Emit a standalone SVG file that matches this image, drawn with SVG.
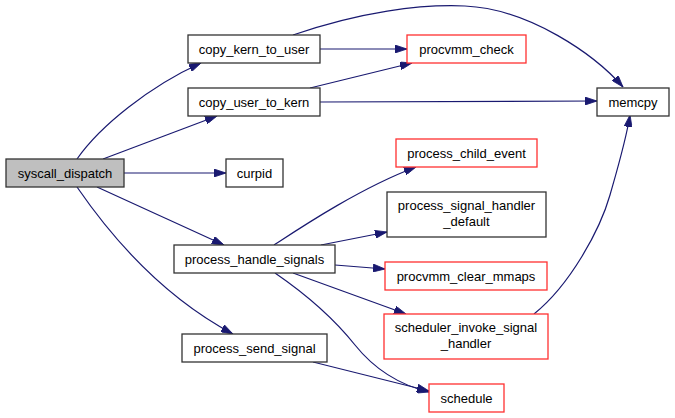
<svg xmlns="http://www.w3.org/2000/svg" width="675" height="418" viewBox="0 0 675 418">
<defs>
<style>
.n rect{fill:#fff;stroke:#333;stroke-width:1.3}
.n.red rect{stroke:#ff3030}
.n.root rect{fill:#bfbfbf}
.n text{font-family:"Liberation Sans",Arial,sans-serif;font-size:13px;text-anchor:middle;fill:#000}
.e path{fill:none;stroke:#191970;stroke-width:1.2;marker-end:url(#ah)}
</style>
<marker id="ah" viewBox="0 0 12 8" markerWidth="12" markerHeight="8" markerUnits="userSpaceOnUse" refX="12" refY="4" orient="auto">
<path d="M0,0 L12,4 L0,8z" fill="#191970" stroke="#191970" stroke-width="0.8"/>
</marker>
</defs>
<rect width="675" height="418" fill="#fff"/>
<g id="edges" class="e">
<path d="M77,159 C100,126 150,86 201,63"/>
<path d="M103,159 L217,116"/>
<path d="M124,173 L226,173"/>
<path d="M97,187 L224,245"/>
<path d="M77,187 C110,235 160,295 233,334"/>
<path d="M320,49 L407,49"/>
<path d="M293,35 C360,12 420,4 465,6 C530,9 595,55 623,87"/>
<path d="M310,88 L412,63"/>
<path d="M320,102 L597,101"/>
<path d="M274,245 C300,228 360,188 416,167"/>
<path d="M321,245 L387,232"/>
<path d="M335,265 L385,269"/>
<path d="M293,273 L406,314"/>
<path d="M275,273 C310,297 335,320 355,345 C375,370 400,385 429,392"/>
<path d="M313,362 L429,391"/>
<path d="M534,314 C570,285 600,230 610,195 C620,160 626,140 630,115"/>
</g>
<g id="syscall_dispatch" class="n root"><rect x="6" y="159" width="118" height="28"/><text x="65" y="177.5">syscall_dispatch</text></g>
<g id="copy_kern_to_user" class="n"><rect x="188" y="35" width="132" height="28"/><text x="254" y="53.5">copy_kern_to_user</text></g>
<g id="copy_user_to_kern" class="n"><rect x="188" y="88" width="132" height="28"/><text x="254" y="106.5">copy_user_to_kern</text></g>
<g id="curpid" class="n"><rect x="226" y="159" width="57" height="28"/><text x="254.5" y="177.5">curpid</text></g>
<g id="process_handle_signals" class="n"><rect x="174" y="245" width="161" height="28"/><text x="254.5" y="263.5">process_handle_signals</text></g>
<g id="process_send_signal" class="n"><rect x="182" y="334" width="145" height="28"/><text x="254.5" y="352.5">process_send_signal</text></g>
<g id="procvmm_check" class="n red"><rect x="407" y="35" width="119" height="28"/><text x="466.5" y="53.5">procvmm_check</text></g>
<g id="memcpy" class="n"><rect x="597" y="88" width="72" height="28"/><text x="633" y="106.5">memcpy</text></g>
<g id="process_child_event" class="n red"><rect x="396" y="139" width="141" height="28"/><text x="466.5" y="157.5">process_child_event</text></g>
<g id="process_signal_handler_default" class="n"><rect x="387" y="192" width="159" height="45"/><text x="466.5" y="209.5">process_signal_handler</text><text x="466.5" y="226">_default</text></g>
<g id="procvmm_clear_mmaps" class="n red"><rect x="385" y="262" width="162" height="28"/><text x="466" y="280.5">procvmm_clear_mmaps</text></g>
<g id="scheduler_invoke_signal_handler" class="n red"><rect x="384" y="314" width="164" height="45"/><text x="466" y="331.5">scheduler_invoke_signal</text><text x="466" y="348">_handler</text></g>
<g id="schedule" class="n red"><rect x="429" y="384" width="75" height="28"/><text x="466.5" y="402.5">schedule</text></g>
</svg>
